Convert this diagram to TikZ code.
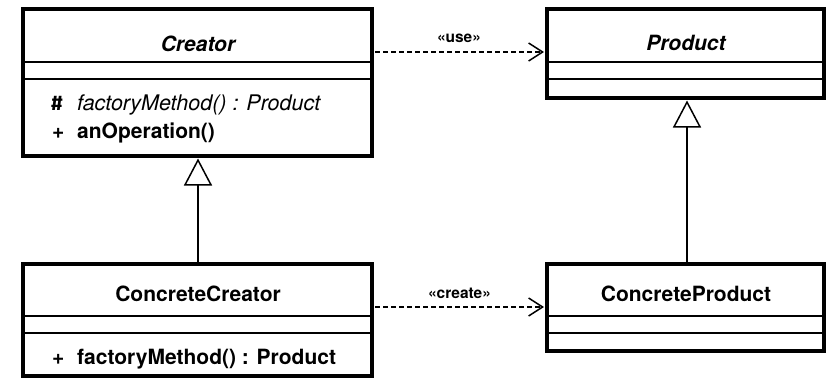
\documentclass[tikz,border=0pt]{standalone}
\usepackage{fontspec}
\setmainfont{TeX Gyre Heros}
\newfontfamily\hashfont{Fira Sans}
\usetikzlibrary{arrows.meta}
\begin{document}
\begin{tikzpicture}[x=1bp,y=-1bp,
  box/.style={draw, line width=4.5bp, inner sep=0pt},
  sep/.style={line width=1.5bp},
  title/.style={font=\fontsize{21bp}{22bp}\selectfont\bfseries, anchor=base},
  member/.style={font=\fontsize{21bp}{22bp}\selectfont, anchor=base west, inner sep=0pt},
  stereo/.style={font=\fontsize{15.5bp}{17bp}\selectfont\bfseries, anchor=base},
  dep/.style={line width=1.3bp, dash pattern=on 5bp off 3bp, -{Straight Barb[length=14bp,width=18bp,line width=1.5bp]}},
  inh/.style={line width=1.5bp, -{Triangle[open,length=27bp,width=28bp,line width=1.5bp,fill=white]}}]
\useasboundingbox (0,0) rectangle (827,379);
% Creator
\node[box, minimum width=349bp, minimum height=147bp] (creator) at (197.5,82.5) {};
\draw[sep] (23,62) -- (372,62) (23,79) -- (372,79);
\node[title] (creatorT) at (198,51) {\itshape Creator};
\node[member] (creatorV1) at (51,110.5) {\hashfont\bfseries\#};
\node[member] (creatorM1) at (77,110.5) {\fontsize{21.5bp}{22bp}\selectfont\itshape factoryMethod() : Product};
\node[member] (creatorV2) at (52,138) {\bfseries +};
\node[member] (creatorM2) at (77,138) {\bfseries anOperation()};
% Product
\node[box, minimum width=277bp, minimum height=89bp] (product) at (685.5,53.5) {};
\draw[sep] (547,62) -- (824,62) (547,79) -- (824,79);
\node[title] (productT) at (686,50) {\itshape Product};
% ConcreteCreator
\node[box, minimum width=349bp, minimum height=112bp] (cc) at (197.5,320) {};
\draw[sep] (23,316) -- (372,316) (23,333) -- (372,333);
\node[title] (ccT) at (198,301) {ConcreteCreator};
\node[member] (ccV1) at (52,364) {\bfseries +};
\node[member] (ccM1) at (77,364) {\bfseries factoryMethod() : Product};
% ConcreteProduct
\node[box, minimum width=277bp, minimum height=87bp] (cp) at (685.5,307.5) {};
\draw[sep] (547,316) -- (824,316) (547,333) -- (824,333);
\node[title] (cpT) at (686,301) {ConcreteProduct};
% dependencies
\coordinate (u1) at (375,52);
\coordinate (u2) at (544,52);
\draw[dep] (u1) -- (u2);
\node[stereo] (useL) at (459,42.5) {«use»};
\coordinate (c1) at (375,307);
\coordinate (c2) at (544,307);
\draw[dep] (c1) -- (c2);
\node[stereo] (createL) at (459.5,298.5) {«create»};
% generalizations
\draw[inh] (198,262) -- (198,158.5);
\draw[inh] (687,262) -- (687,100.5);
\end{tikzpicture}
\end{document}
